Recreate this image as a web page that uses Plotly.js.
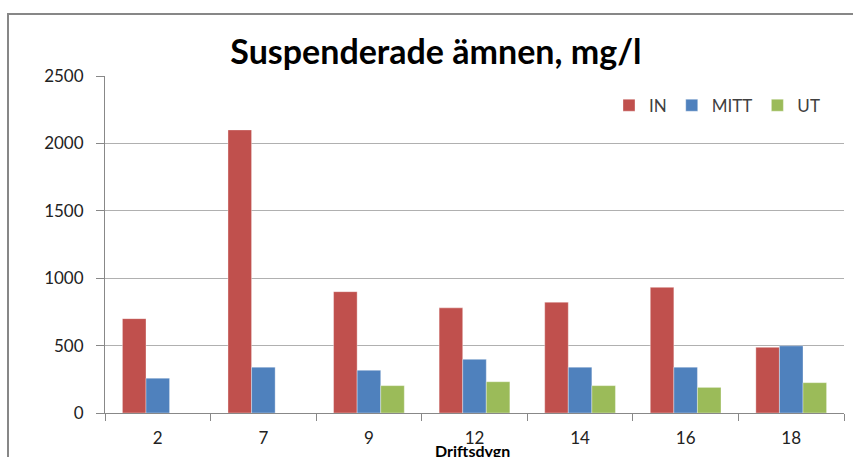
<!DOCTYPE html>
<html>
<head>
<meta charset="utf-8">
<script src="https://cdn.plot.ly/plotly-3.0.1.min.js"></script>
<style>
  html, body { margin:0; padding:0; background:#fff; }
  #wrap { position:relative; width:853px; height:457px; overflow:hidden; }
  #chart { position:absolute; left:0; top:0; width:853px; height:457px; }
  #frame { position:absolute; left:7px; top:13px; width:900px; height:500px;
           border-left:2px solid #878787; border-top:2px solid #878787; pointer-events:none; }
</style>
</head>
<body>
<div id="wrap">
  <div id="chart"></div>
  <div id="frame"></div>
</div>
<script>
const categories = ['2', '7', '9', '12', '14', '16', '18'];
const seriesNames = ['IN', 'MITT', 'UT'];
const valuesIN   = [700, 2100, 900, 780, 822, 932, 487];
const valuesMITT = [258, 340, 317, 398, 340, 340, 498];
const valuesUT   = [null, null, 203, 232, 203, 190, 225];
const yTicks = [0, 500, 1000, 1500, 2000, 2500];
const colors = ['#C0504D', '#4F81BD', '#9BBB59'];

const FONT = 'Lato, "Open Sans", sans-serif';
const allValues = [valuesIN, valuesMITT, valuesUT];

const traces = allValues.map((vals, i) => ({
  type: 'bar',
  name: seriesNames[i],
  x: categories,
  y: vals,
  marker: { color: colors[i], line: { color: 'rgba(255,255,255,0.35)', width: 1 } },
  hoverinfo: 'x+y+name'
}));

const layout = {
  width: 853, height: 457,
  margin: { l: 105, r: 9, t: 76, b: 44 },
  paper_bgcolor: 'rgba(0,0,0,0)',
  plot_bgcolor: 'rgba(0,0,0,0)',
  barmode: 'group',
  bargap: 0.33,
  bargroupgap: 0,
  showlegend: true,
  title: {
    text: 'Suspenderade ämnen, mg/l',
    font: { family: FONT, size: 34, color: '#000', weight: 'bold' },
    x: 0.511, xref: 'container', xanchor: 'center',
    y: 0.885, yref: 'container', yanchor: 'middle'
  },
  legend: {
    orientation: 'h',
    x: 0.682, xanchor: 'left',
    y: 0.912, yanchor: 'middle',
    font: { family: FONT, size: 17, color: '#404040' },
    bgcolor: 'rgba(0,0,0,0)',
    itemclick: false, itemdoubleclick: false
  },
  xaxis: {
    type: 'category',
    showline: true, linecolor: '#888', linewidth: 1,
    showgrid: false,
    ticks: 'outside', tickson: 'boundaries', ticklen: 7, tickcolor: '#888',
    tickfont: { family: FONT, size: 17, color: '#222' },
    ticklabelstandoff: 10,
    zeroline: false,
    fixedrange: true
  },
  yaxis: {
    range: [0, 2500],
    tickvals: yTicks,
    ticktext: yTicks.map(String),
    showline: true, linecolor: '#888', linewidth: 1,
    showgrid: true, gridcolor: '#b0b0b0', gridwidth: 1,
    ticks: 'outside', ticklen: 8, tickcolor: '#888',
    tickfont: { family: FONT, size: 17, color: '#222' },
    ticklabelstandoff: 9,
    zeroline: false,
    fixedrange: true
  },
  annotations: [{
    text: '<b>Driftsdygn</b>',
    xref: 'paper', yref: 'paper',
    x: 0.497, y: -0.112, xanchor: 'center', yanchor: 'middle',
    showarrow: false,
    font: { family: FONT, size: 16, color: '#000' }
  }]
};

Plotly.newPlot('chart', traces, layout, { displayModeBar: false, staticPlot: false });
</script>
</body>
</html>
